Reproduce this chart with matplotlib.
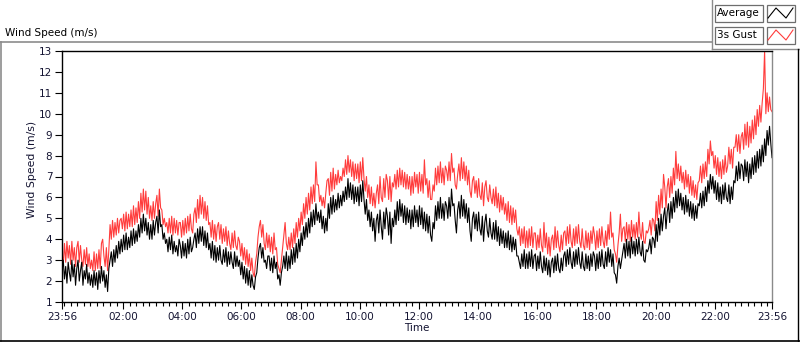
import numpy as np
import pandas as pd
from matplotlib import pyplot as plt
import matplotlib.dates as mdates
from matplotlib.ticker import FixedLocator
from matplotlib.lines import Line2D
from matplotlib.patches import Rectangle
from datetime import datetime, timedelta

# 2.5-minute samples starting 23:56, one row per hour
startTime = datetime(2000, 1, 1, 23, 56)
average = [
    2.5, 3.0, 2.1, 2.7, 1.9, 2.9, 2.4, 2.0, 3.0, 2.2, 2.8, 1.8, 2.6, 3.0, 2.0, 2.5, 2.9, 1.8, 2.5, 2.1, 2.8, 1.9, 2.4, 1.8,
    2.3, 1.7, 2.5, 1.8, 2.4, 1.6, 2.5, 1.9, 2.7, 2.0, 2.5, 1.7, 2.3, 1.5, 2.6, 3.0, 3.4, 2.7, 3.5, 2.9, 3.7, 3.1, 3.9, 3.3,
    4.0, 3.4, 4.2, 3.5, 4.3, 3.5, 4.1, 3.6, 4.4, 3.7, 4.5, 3.8, 4.4, 3.9, 4.7, 4.1, 5.0, 4.3, 5.2, 4.4, 5.0, 4.2, 4.8, 4.0,
    4.7, 4.0, 4.9, 4.2, 4.8, 5.1, 4.3, 5.4, 4.6, 4.7, 4.0, 4.3, 3.8, 4.0, 3.4, 4.1, 3.5, 4.2, 3.3, 3.9, 3.4, 3.7, 3.2, 4.0,
    3.7, 3.1, 3.9, 3.2, 3.8, 3.1, 4.0, 3.3, 4.1, 3.4, 3.6, 4.0, 4.3, 3.6, 4.5, 3.8, 4.6, 3.9, 4.6, 3.7, 4.4, 3.6, 4.3, 3.5,
    3.8, 3.1, 3.9, 3.0, 3.7, 2.9, 3.6, 3.0, 3.7, 3.0, 2.8, 3.5, 2.9, 3.6, 2.7, 3.4, 2.8, 3.4, 2.9, 2.6, 3.4, 2.7, 3.2, 2.7,
    3.0, 2.3, 2.9, 2.1, 2.7, 1.9, 2.6, 1.8, 2.5, 1.7, 2.3, 1.8, 1.6, 2.2, 2.4, 3.1, 3.6, 3.8, 3.1, 3.6, 2.9, 3.0, 2.6, 3.2,
    3.2, 2.5, 3.1, 2.4, 3.2, 2.6, 2.9, 2.1, 2.3, 1.8, 2.4, 2.7, 3.2, 2.6, 3.4, 2.5, 3.2, 2.6, 3.5, 2.8, 3.6, 2.9, 3.8, 3.1,
    4.0, 3.4, 4.3, 3.7, 4.6, 4.0, 4.8, 4.1, 5.0, 4.3, 5.3, 4.6, 5.4, 4.7, 5.7, 4.9, 5.3, 4.8, 5.4, 4.5, 5.1, 4.3, 5.0, 4.4,
    5.7, 5.0, 6.0, 5.2, 6.1, 5.3, 5.9, 5.4, 6.2, 5.5, 6.1, 5.6, 6.3, 5.8, 6.5, 5.9, 6.9, 6.0, 6.7, 5.9, 6.6, 5.7, 6.5, 5.8,
    6.5, 5.6, 6.6, 5.8, 6.8, 5.9, 5.2, 5.9, 4.9, 5.4, 4.6, 5.3, 4.4, 5.0, 3.9, 4.9, 5.2, 4.3, 5.4, 4.6, 4.0, 5.3, 4.5, 5.5,
    5.1, 4.2, 5.3, 3.8, 5.0, 4.6, 5.4, 4.7, 5.8, 4.9, 5.9, 5.1, 5.7, 4.8, 5.6, 4.7, 5.5, 4.8, 5.4, 4.5, 5.4, 4.6, 5.6, 4.8,
    5.4, 4.6, 5.6, 4.7, 5.5, 4.5, 5.3, 4.4, 5.2, 4.3, 5.1, 4.2, 3.9, 4.8, 4.5, 5.6, 4.9, 5.8, 5.0, 6.0, 5.0, 5.7, 4.9, 5.8,
    5.6, 5.0, 6.0, 5.1, 6.4, 5.6, 5.7, 4.9, 4.3, 5.4, 5.8, 5.0, 6.1, 5.1, 5.9, 5.0, 5.7, 4.8, 5.5, 4.4, 3.9, 5.0, 5.3, 4.5,
    5.2, 4.4, 5.3, 4.5, 4.2, 5.1, 3.9, 4.8, 5.2, 4.4, 4.1, 5.0, 4.3, 4.0, 4.8, 4.0, 4.9, 3.9, 4.6, 3.7, 4.5, 3.8, 4.4, 3.6,
    4.3, 3.6, 4.4, 3.5, 4.2, 3.4, 4.1, 3.5, 4.0, 3.2, 3.2, 2.9, 2.6, 3.3, 2.7, 3.5, 2.6, 3.3, 2.6, 3.4, 2.7, 3.5, 2.6, 3.2,
    3.3, 2.5, 3.2, 2.6, 3.4, 2.7, 2.4, 3.2, 2.5, 3.1, 2.3, 3.0, 2.2, 2.9, 3.1, 2.4, 3.2, 2.5, 3.3, 2.6, 2.4, 3.1, 2.5, 3.2,
    3.4, 2.7, 3.5, 2.8, 3.6, 2.9, 2.6, 3.4, 2.7, 3.5, 2.8, 3.6, 2.9, 2.6, 3.4, 2.7, 2.5, 3.3, 2.6, 3.2, 2.5, 3.3, 2.7, 3.4,
    3.2, 2.5, 3.3, 2.6, 3.4, 2.7, 3.5, 2.8, 2.6, 3.4, 2.7, 3.6, 2.9, 3.5, 2.7, 3.3, 2.4, 2.3, 1.9, 2.7, 3.1, 2.6, 3.0, 3.4,
    3.8, 3.1, 4.0, 3.2, 3.9, 3.1, 4.1, 3.3, 3.9, 3.2, 4.0, 3.3, 4.1, 3.4, 3.2, 3.9, 3.0, 2.9, 3.5, 3.4, 3.6, 4.0, 3.3, 4.1,
    4.0, 3.6, 4.7, 3.9, 5.0, 4.2, 5.2, 4.4, 5.1, 5.5, 4.5, 5.3, 5.7, 4.8, 5.8, 5.0, 6.0, 5.3, 6.3, 5.5, 6.4, 5.6, 6.2, 5.4,
    6.0, 5.2, 6.1, 5.3, 5.9, 5.1, 5.8, 5.0, 5.7, 4.9, 5.6, 5.0, 5.7, 5.6, 6.2, 5.5, 6.3, 5.6, 6.5, 5.8, 6.8, 6.2, 7.1, 6.4,
    7.0, 6.2, 6.8, 5.9, 6.7, 5.8, 6.5, 5.7, 6.6, 5.9, 6.7, 6.0, 5.8, 6.6, 5.7, 6.5, 5.9, 6.8, 6.7, 7.5, 6.8, 7.7, 6.9, 7.6,
    7.5, 6.8, 7.8, 7.0, 7.7, 6.7, 7.6, 6.9, 7.9, 7.1, 8.0, 7.2, 8.2, 7.4, 8.3, 7.5, 8.5, 7.7, 8.8, 8.0, 9.2, 8.5, 9.4, 8.6,
    7.9,
]
gust = [
    3.4, 2.8, 3.8, 2.9, 3.9, 3.1, 3.7, 2.8, 3.9, 3.0, 3.6, 2.7, 3.6, 3.9, 2.9, 3.7, 3.0, 2.7, 3.5, 2.8, 3.6, 2.7, 3.3, 2.6,
    3.0, 2.5, 3.4, 2.5, 3.3, 2.6, 3.5, 2.6, 3.8, 4.0, 3.2, 2.7, 3.6, 2.5, 3.5, 4.7, 4.0, 4.9, 4.1, 4.8, 4.2, 5.0, 4.3, 4.9,
    5.0, 4.5, 5.2, 4.4, 5.3, 4.5, 5.2, 4.6, 5.4, 4.6, 5.6, 4.7, 5.5, 4.8, 5.8, 5.0, 6.2, 5.3, 6.4, 5.4, 6.3, 5.2, 6.0, 5.0,
    5.6, 4.9, 5.8, 5.0, 5.7, 6.1, 5.1, 6.4, 5.5, 5.4, 4.7, 5.0, 4.6, 4.8, 4.3, 5.0, 4.3, 5.1, 4.2, 5.0, 4.3, 4.9, 4.2, 4.8,
    4.8, 4.1, 4.9, 4.2, 5.0, 4.3, 5.1, 4.4, 5.2, 4.5, 4.3, 5.2, 5.5, 4.8, 5.9, 5.0, 6.1, 5.2, 6.0, 5.0, 5.8, 4.9, 5.6, 4.7,
    4.8, 4.1, 4.9, 4.0, 4.7, 3.9, 4.6, 4.8, 4.0, 4.7, 3.8, 4.5, 3.9, 4.6, 3.7, 4.4, 3.8, 3.5, 4.3, 3.6, 4.4, 3.7, 3.5, 4.1,
    3.9, 3.2, 3.8, 3.0, 3.6, 2.8, 3.5, 2.7, 3.3, 2.5, 3.1, 2.4, 2.2, 2.9, 3.3, 4.1, 4.6, 4.9, 4.1, 4.7, 3.8, 3.5, 4.3, 3.6,
    4.2, 3.4, 4.1, 3.3, 4.3, 3.5, 3.6, 2.8, 2.6, 2.4, 3.0, 3.6, 4.2, 4.8, 3.8, 3.5, 4.1, 3.5, 4.3, 3.6, 4.5, 3.8, 4.8, 4.1,
    5.0, 4.4, 5.3, 4.7, 5.7, 5.0, 6.0, 5.2, 6.2, 5.4, 6.5, 5.7, 6.6, 5.8, 7.7, 6.6, 6.6, 5.8, 6.1, 5.6, 6.0, 5.5, 6.2, 6.8,
    6.9, 6.1, 7.2, 6.3, 7.4, 6.4, 7.1, 6.6, 7.3, 6.7, 7.0, 6.8, 7.4, 7.0, 7.8, 7.1, 8.0, 7.2, 7.8, 7.0, 7.7, 6.8, 7.6, 6.9,
    7.6, 6.7, 7.7, 6.8, 7.9, 6.9, 6.3, 7.0, 6.0, 6.6, 5.7, 6.5, 5.6, 6.2, 5.5, 6.2, 6.6, 5.7, 7.0, 6.0, 5.8, 6.9, 6.0, 7.1,
    6.8, 5.9, 7.0, 5.8, 6.7, 6.5, 7.1, 6.4, 7.3, 6.5, 7.4, 6.6, 7.3, 6.5, 7.2, 6.4, 7.1, 6.4, 7.0, 6.1, 7.0, 6.2, 7.2, 6.5,
    7.1, 6.2, 7.2, 6.3, 7.1, 6.2, 7.8, 6.6, 6.9, 6.0, 6.8, 5.9, 5.9, 6.6, 6.3, 7.4, 6.6, 7.5, 6.7, 7.7, 6.7, 7.4, 6.6, 7.5,
    7.3, 6.8, 7.7, 6.8, 8.1, 7.2, 7.4, 6.6, 6.4, 7.1, 7.6, 6.8, 7.9, 6.9, 7.7, 6.8, 7.5, 6.6, 7.3, 6.3, 6.0, 6.8, 7.0, 6.2,
    6.8, 6.0, 6.9, 6.1, 5.9, 6.7, 5.6, 6.5, 6.8, 6.0, 5.8, 6.6, 6.0, 5.7, 6.4, 5.6, 6.5, 5.5, 6.2, 5.3, 6.1, 5.4, 6.0, 5.2,
    5.7, 4.9, 5.8, 4.8, 5.6, 4.7, 5.5, 4.8, 5.4, 4.5, 4.2, 4.6, 3.7, 4.5, 3.8, 4.6, 3.6, 4.4, 3.6, 4.5, 3.7, 4.6, 3.6, 4.3,
    4.3, 3.5, 4.2, 3.6, 4.5, 3.7, 3.4, 4.8, 3.6, 4.3, 3.3, 4.1, 3.2, 4.0, 4.2, 3.5, 4.6, 3.6, 4.4, 3.7, 3.4, 4.2, 3.5, 4.3,
    4.4, 3.7, 4.6, 3.8, 4.7, 3.9, 3.6, 4.5, 3.7, 4.6, 3.8, 4.7, 3.9, 3.6, 4.5, 3.7, 3.5, 4.4, 3.6, 4.3, 3.5, 4.4, 3.8, 4.6,
    4.2, 3.5, 4.4, 3.6, 4.5, 3.7, 4.6, 3.9, 3.6, 4.4, 3.7, 4.7, 4.0, 5.3, 4.1, 4.3, 3.5, 3.3, 2.9, 3.7, 4.3, 5.2, 3.9, 4.5,
    4.6, 3.9, 4.8, 4.0, 4.7, 3.9, 4.9, 4.1, 4.7, 4.0, 4.8, 4.1, 5.3, 4.3, 4.0, 4.8, 3.9, 3.8, 4.4, 4.3, 4.5, 4.9, 4.2, 5.0,
    4.9, 4.4, 5.8, 4.9, 6.1, 5.2, 6.4, 5.5, 7.1, 6.5, 5.5, 6.5, 6.9, 6.0, 7.0, 6.2, 7.4, 6.6, 8.2, 6.9, 7.6, 6.8, 7.5, 6.7,
    7.2, 6.4, 7.3, 6.5, 7.1, 6.2, 7.0, 6.1, 6.8, 6.0, 6.6, 5.9, 6.7, 6.8, 7.5, 6.7, 7.6, 6.9, 7.7, 7.0, 8.3, 7.6, 8.7, 8.0,
    8.2, 7.4, 8.0, 7.1, 7.9, 7.0, 7.7, 6.9, 7.8, 7.1, 8.0, 7.2, 7.5, 8.4, 7.6, 8.3, 7.4, 8.4, 8.4, 9.0, 8.2, 9.0, 8.1, 8.9,
    9.1, 8.3, 9.5, 8.5, 9.6, 8.4, 9.4, 8.6, 9.7, 8.8, 9.9, 9.0, 10.2, 9.4, 10.4, 9.6, 10.5, 11.2, 13.0, 10.0, 11.0, 10.1, 10.8, 10.2,
    10.1,
]
yTicks = list(range(1, 14))
seriesNames = ["Average", "3s Gust"]
seriesColors = ["#000000", "#ff3c3c"]

W, H = 800, 342
fontName = "DejaVu Sans"
textColor = "#141432"


def fx(x):
    return x / W


def fy(y):
    return 1 - y / H


times = pd.date_range(startTime, periods=len(average), freq="150s")
endTime = startTime + timedelta(hours=24)

fig = plt.figure(figsize=(W / 100, H / 100), dpi=100)
ax = fig.add_axes([fx(62), fy(302), (772 - 62) / W, (302 - 51) / H])

ax.plot(times, gust, color=seriesColors[1], lw=0.8)
ax.plot(times, average, color=seriesColors[0], lw=0.8)

ax.set_xlim(startTime, endTime)
ax.set_ylim(1, 13)
ax.set_yticks(yTicks)

majors = [startTime] + [datetime(2000, 1, 2, h) for h in range(2, 24, 2)] + [endTime]
ax.xaxis.set_major_locator(FixedLocator(mdates.date2num(majors)))
ax.xaxis.set_major_formatter(mdates.DateFormatter("%H:%M"))
minors = [datetime(2000, 1, 2) + timedelta(minutes=120 / 9 * k) for k in range(0, 108)]
minors = [m for m in minors if m < endTime]
ax.xaxis.set_minor_locator(FixedLocator(mdates.date2num(minors)))

ax.tick_params(axis="both", which="major", direction="out", length=5, width=0.8,
               labelsize=7.5, colors="black", labelcolor=textColor, pad=2)
ax.tick_params(axis="x", which="minor", direction="out", length=3, width=0.8, colors="black")
for lab in ax.get_xticklabels() + ax.get_yticklabels():
    lab.set_fontname(fontName)

for side in ["top", "left", "bottom"]:
    ax.spines[side].set_color("black")
    ax.spines[side].set_linewidth(1.0)
ax.spines["right"].set_color("#8a8a8a")
ax.spines["right"].set_linewidth(1.0)

ax.set_xlabel("Time", fontname=fontName, fontsize=7.5, color=textColor, labelpad=1)
fig.text(fx(32), fy(169), "Wind Speed (m/s)", rotation=90, ha="center", va="center",
         fontname=fontName, fontsize=7.8, color=textColor)
fig.text(fx(5), fy(33), "Wind Speed (m/s)", ha="left", va="center",
         fontname=fontName, fontsize=7.5, color="black")

# outer panel frame
gray = "#8c8c8c"
fig.add_artist(Line2D([fx(0.5), fx(0.5)], [fy(42), fy(341)], transform=fig.transFigure, color=gray, lw=1.2))
fig.add_artist(Line2D([fx(0), fx(712)], [fy(42), fy(42)], transform=fig.transFigure, color=gray, lw=1.2))
fig.add_artist(Line2D([fx(712), fx(712)], [fy(0), fy(49)], transform=fig.transFigure, color=gray, lw=1.0))
fig.add_artist(Line2D([fx(712), fx(800)], [fy(49), fy(49)], transform=fig.transFigure, color=gray, lw=1.0))
fig.add_artist(Line2D([fx(0), fx(800)], [fy(340.5), fy(340.5)], transform=fig.transFigure, color="black", lw=1.2))
fig.add_artist(Line2D([fx(797.5), fx(797.5)], [fy(49), fy(341)], transform=fig.transFigure, color="black", lw=1.0))

# legend
for i, (name, col) in enumerate(zip(seriesNames, seriesColors)):
    top = 5 + i * 22
    fig.add_artist(Rectangle((fx(715), fy(top + 17)), 48 / W, 17 / H, transform=fig.transFigure,
                             facecolor="white", edgecolor="#6e6e6e", lw=0.9))
    fig.add_artist(Rectangle((fx(767), fy(top + 17)), 28 / W, 17 / H, transform=fig.transFigure,
                             facecolor="white", edgecolor="#6e6e6e", lw=0.9))
    fig.text(fx(717), fy(top + 8.5), name, ha="left", va="center", fontname=fontName,
             fontsize=7.5, color="black")
    sx = [768, 776, 786, 793]
    sy = [top + 13, top + 3, top + 13, top + 3]
    fig.add_artist(Line2D([fx(v) for v in sx], [fy(v) for v in sy], transform=fig.transFigure,
                          color=col, lw=0.8))

fig.savefig("out.png", dpi=100)
